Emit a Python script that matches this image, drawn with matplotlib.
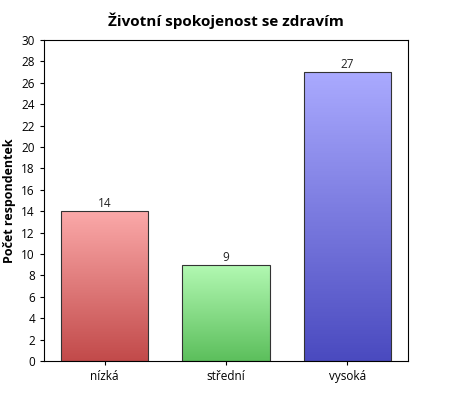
import matplotlib
matplotlib.use("Agg")
import matplotlib.pyplot as plt
import numpy as np
from matplotlib.colors import LinearSegmentedColormap

categories = ["nízká", "střední", "vysoká"]
values = [14, 9, 27]
top_colors = ["#fba9a9", "#b3f9b3", "#aaaaff"]
bottom_colors = ["#c24a4a", "#5cbf5c", "#4a4abf"]

plt.rcParams['font.family'] = ['Open Sans', 'DejaVu Sans']
fig = plt.figure(figsize=(4.5, 4), dpi=100)
ax = fig.add_axes([44/450, 39/400, 364/450, 321/400])
x = np.arange(len(categories))
bars = ax.bar(x, values, width=0.72, color="none", edgecolor="#333333", linewidth=0.8, zorder=3)
grad = np.linspace(0, 1, 256).reshape(-1, 1)
for b, tc, bc, v in zip(bars, top_colors, bottom_colors, values):
    cmap = LinearSegmentedColormap.from_list("g", [bc, tc])
    x0, w, h = b.get_x(), b.get_width(), b.get_height()
    im = ax.imshow(grad, extent=[x0, x0 + w, 0, h], origin="lower", aspect="auto", cmap=cmap, zorder=2)
    im.set_clip_path(b)
    ax.text(x0 + w/2, h + 0.1, str(v), ha="center", va="bottom", fontsize=8.5, color="#222")
ax.set_xlim(-0.5, 2.5)
ax.set_ylim(0, 30)
ax.set_yticks(range(0, 31, 2))
ax.set_xticks(x)
ax.set_xticklabels(categories)
ax.tick_params(labelsize=8.5, length=3)
ax.set_ylabel("Počet respondentek", fontsize=9, fontweight="bold")
ax.set_title("Životní spokojenost se zdravím", fontsize=11, fontweight="bold", pad=10)
fig.savefig("out.png", dpi=100)
